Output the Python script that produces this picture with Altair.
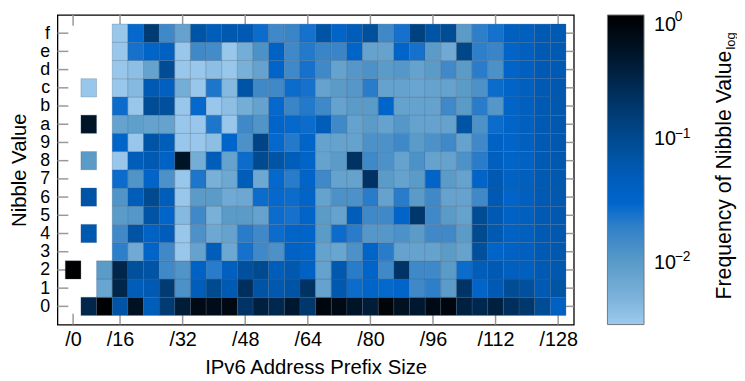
import altair as alt
import pandas as pd

nibble_labels = list("0123456789abcdef")
positions = list(range(1, 33))  # nibble position 1..32
tick_positions = [1, 4, 8, 12, 16, 20, 24, 28, 32]
tick_labels = ["/0", "/16", "/32", "/48", "/64", "/80", "/96", "/112", "/128"]
row_ticks = list(range(16))
legend_values = [1.0, 0.1, 0.01]
legend_exponents = ["0", "\u22121", "\u22122"]

N = None
row_0 = [N, 0.3, 0.95, 0.07, 0.55, 0.048, 0.16, 0.4, 0.7, 0.65, 0.75, 0.2, 0.35, 0.28, 0.45, 0.18, 0.8, 0.7, 0.5, 0.4, 0.85, 0.55, 0.45, 0.7, 0.8, 0.35, 0.28, 0.35, 0.23, 0.18, 0.09, 0.038]
row_1 = [N, N, 0.0075, 0.3, 0.048, 0.055, 0.16, 0.013, 0.048, 0.1, 0.055, 0.23, 0.07, 0.06, 0.07, 0.21, 0.008, 0.06, 0.027, 0.033, 0.029, 0.031, 0.016, 0.02, 0.01, 0.2, 0.033, 0.055, 0.09, 0.08, 0.055, 0.07]
row_2 = [1.0, N, 0.01, 0.3, 0.08, 0.07, 0.016, 0.012, 0.036, 0.021, 0.042, 0.08, 0.1, 0.048, 0.06, 0.036, 0.008, 0.06, 0.021, 0.033, 0.016, 0.2, 0.016, 0.016, 0.01, 0.027, 0.048, 0.055, 0.042, 0.042, 0.055, 0.06]
row_3 = [N, N, N, 0.02, 0.0065, 0.033, 0.016, 0.0034, 0.008, 0.048, 0.007, 0.025, 0.016, 0.013, 0.036, 0.033, 0.008, 0.0075, 0.013, 0.033, 0.021, 0.008, 0.008, 0.008, 0.01, 0.008, 0.08, 0.033, 0.036, 0.042, 0.055, 0.06]
row_4 = [N, 0.06, N, 0.016, 0.07, 0.036, 0.048, 0.0034, 0.013, 0.007, 0.008, 0.021, 0.016, 0.027, 0.033, 0.033, 0.01, 0.027, 0.021, 0.011, 0.011, 0.013, 0.01, 0.016, 0.016, 0.01, 0.1, 0.055, 0.036, 0.042, 0.055, 0.06]
row_5 = [N, N, N, 0.01, 0.011, 0.07, 0.033, 0.0045, 0.016, 0.0055, 0.01, 0.01, 0.008, 0.027, 0.025, 0.033, 0.01, 0.008, 0.048, 0.016, 0.016, 0.033, 0.18, 0.016, 0.01, 0.008, 0.09, 0.055, 0.036, 0.042, 0.055, 0.06]
row_6 = [N, 0.07, N, 0.012, 0.048, 0.1, 0.048, 0.0034, 0.01, 0.01, 0.0065, 0.007, 0.027, 0.029, 0.027, 0.033, 0.008, 0.013, 0.013, 0.021, 0.008, 0.021, 0.01, 0.016, 0.008, 0.008, 0.016, 0.055, 0.033, 0.042, 0.055, 0.06]
row_7 = [N, N, N, 0.027, 0.012, 0.033, 0.013, 0.0034, 0.023, 0.0055, 0.007, 0.048, 0.007, 0.029, 0.021, 0.033, 0.016, 0.008, 0.008, 0.21, 0.01, 0.008, 0.01, 0.033, 0.01, 0.008, 0.033, 0.055, 0.036, 0.042, 0.055, 0.06]
row_8 = [N, 0.01, N, 0.0034, 0.048, 0.055, 0.036, 0.5, 0.006, 0.048, 0.008, 0.027, 0.1, 0.07, 0.048, 0.033, 0.008, 0.01, 0.21, 0.016, 0.013, 0.008, 0.013, 0.008, 0.008, 0.013, 0.021, 0.042, 0.033, 0.036, 0.055, 0.06]
row_9 = [N, N, N, 0.033, 0.0034, 0.07, 0.048, 0.0034, 0.0034, 0.004, 0.031, 0.013, 0.12, 0.029, 0.022, 0.033, 0.008, 0.008, 0.008, 0.013, 0.013, 0.016, 0.01, 0.013, 0.016, 0.008, 0.016, 0.036, 0.033, 0.042, 0.055, 0.06]
row_a = [N, 0.5, N, 0.008, 0.009, 0.008, 0.008, 0.0034, 0.0034, 0.023, 0.0034, 0.016, 0.012, 0.033, 0.029, 0.027, 0.048, 0.016, 0.008, 0.01, 0.008, 0.011, 0.008, 0.008, 0.008, 0.07, 0.013, 0.027, 0.033, 0.042, 0.055, 0.06]
row_b = [N, N, N, 0.027, 0.0034, 0.09, 0.08, 0.0034, 0.029, 0.0034, 0.004, 0.006, 0.008, 0.029, 0.018, 0.022, 0.016, 0.008, 0.01, 0.01, 0.031, 0.008, 0.008, 0.008, 0.016, 0.01, 0.021, 0.011, 0.033, 0.042, 0.055, 0.06]
row_c = [N, 0.0034, N, 0.0034, 0.0045, 0.055, 0.042, 0.006, 0.0034, 0.023, 0.0045, 0.07, 0.016, 0.016, 0.027, 0.025, 0.008, 0.01, 0.011, 0.021, 0.008, 0.008, 0.0075, 0.008, 0.008, 0.01, 0.013, 0.027, 0.033, 0.042, 0.055, 0.06]
row_d = [N, N, N, 0.0034, 0.004, 0.008, 0.09, 0.0034, 0.0034, 0.004, 0.0034, 0.0055, 0.008, 0.033, 0.016, 0.025, 0.016, 0.008, 0.011, 0.013, 0.01, 0.011, 0.008, 0.01, 0.016, 0.01, 0.021, 0.013, 0.033, 0.042, 0.055, 0.055]
row_e = [N, N, N, 0.0034, 0.025, 0.033, 0.039, 0.0034, 0.016, 0.015, 0.0034, 0.006, 0.013, 0.036, 0.016, 0.022, 0.018, 0.018, 0.033, 0.008, 0.008, 0.033, 0.025, 0.01, 0.0065, 0.11, 0.02, 0.018, 0.033, 0.042, 0.055, 0.055]
row_f = [N, N, N, 0.0034, 0.029, 0.16, 0.016, 0.008, 0.07, 0.048, 0.06, 0.055, 0.027, 0.016, 0.018, 0.025, 0.07, 0.033, 0.048, 0.08, 0.016, 0.025, 0.13, 0.07, 0.09, 0.01, 0.02, 0.025, 0.042, 0.042, 0.055, 0.055]

rows = [row_0, row_1, row_2, row_3, row_4, row_5, row_6, row_7,
        row_8, row_9, row_a, row_b, row_c, row_d, row_e, row_f]

records = []
for r, vals in enumerate(rows):
    for k, v in zip(positions, vals):
        if v is not None:
            records.append({"pos": k, "nibble": r, "freq": v})
df = pd.DataFrame(records)

color_domain = [0.00316, 0.0055, 0.01, 0.018, 0.03, 0.055, 0.1, 0.2, 0.5, 1.0]
color_range = ["#9dcaee", "#78b0d8", "#5a9bc8", "#3a85c8", "#0066cc",
               "#005ab4", "#004a90", "#003466", "#001428", "#000000"]

FONT = "Liberation Sans"
W, H = 522, 313
TICK = 11
xscale = alt.Scale(domain=[0, 33], nice=False, zero=False)
yscale = alt.Scale(domain=[-1, 16], nice=False, zero=False)

x_label_expr = "datum.value == 1 ? '/0' : '/' + (datum.value * 4)"
y_label_expr = "substring('0123456789abcdef', datum.value, datum.value + 1)"

common_axis = dict(domain=False, grid=False, ticks=False, labelFont=FONT,
                   labelColor="black", titleFont=FONT, titleFontSize=20.5,
                   titleFontWeight="normal", titleColor="black", labelOverlap=False,
                   labelFlush=False)
x_axis = alt.Axis(orient="bottom", values=tick_positions, labelExpr=x_label_expr,
                  title="IPv6 Address Prefix Size", labelPadding=5,
                  labelFontSize=20, titlePadding=8, **common_axis)
y_axis = alt.Axis(orient="left", values=row_ticks, labelExpr=y_label_expr,
                  title="Nibble Value", labelPadding=8, labelFontSize=18,
                  titlePadding=10, **common_axis)

# inward tick marks on all four sides (drawn first, so the cells cover them)
xt = pd.DataFrame({"p": tick_positions})
yt = pd.DataFrame({"r": row_ticks})
tick_style = dict(color="#999999", strokeWidth=1.5)
x_ticks_bottom = alt.Chart(xt).mark_rule(**tick_style).encode(
    x=alt.X("p:Q", scale=xscale, axis=x_axis), y=alt.value(H - TICK), y2=alt.value(H))
x_ticks_top = alt.Chart(xt).mark_rule(**tick_style).encode(
    x=alt.X("p:Q", scale=xscale, axis=x_axis), y=alt.value(0), y2=alt.value(TICK))
y_ticks_left = alt.Chart(yt).mark_rule(**tick_style).encode(
    y=alt.Y("r:Q", scale=yscale, axis=y_axis), x=alt.value(0), x2=alt.value(TICK))
y_ticks_right = alt.Chart(yt).mark_rule(**tick_style).encode(
    y=alt.Y("r:Q", scale=yscale, axis=y_axis), x=alt.value(W - TICK), x2=alt.value(W))

base = alt.Chart(df).transform_calculate(
    x0="datum.pos - 0.5", x1="datum.pos + 0.5",
    y0="datum.nibble - 0.5", y1="datum.nibble + 0.5",
)

cells = base.mark_rect(stroke="#3d5d7a", strokeWidth=0.6, strokeOpacity=0.45).encode(
    x=alt.X("x0:Q", scale=xscale, axis=x_axis),
    x2="x1:Q",
    y=alt.Y("y0:Q", scale=yscale, axis=y_axis),
    y2="y1:Q",
    color=alt.Color("freq:Q",
                    scale=alt.Scale(type="log", domain=color_domain, range=color_range,
                                    interpolate="rgb", clamp=True),
                    legend=alt.Legend(orient="none", legendX=556, legendY=0,
                                      direction="vertical", gradientLength=H,
                                      gradientThickness=37, values=legend_values,
                                      labelExpr="'10'",
                                      labelFont=FONT, labelFontSize=20, labelColor="black",
                                      labelOffset=10, labelOverlap=False, title=None,
                                      gradientStrokeColor="#777777", gradientStrokeWidth=1,
                                      padding=0)),
)

# exponents of the colour-bar labels (10^0, 10^-1, 10^-2)
exp_layers = []
for exp_text, ypix in zip(legend_exponents, [2, 120, 245]):
    exp_layers.append(
        alt.Chart(pd.DataFrame({"t": [exp_text]})).mark_text(
            align="left", baseline="middle", font=FONT, fontSize=14, color="black"
        ).encode(x=alt.value(624), y=alt.value(ypix), text="t:N")
    )

title_df = pd.DataFrame({"t": ["Frequency of Nibble Value"]})
title_main = alt.Chart(title_df).mark_text(
    angle=270, align="right", baseline="middle", font=FONT, fontSize=21.5, color="black"
).encode(x=alt.value(675), y=alt.value(36), text="t:N")

sub_df = pd.DataFrame({"t": ["log"]})
title_sub = alt.Chart(sub_df).mark_text(
    angle=270, align="left", baseline="middle", font=FONT, fontSize=13, color="black"
).encode(x=alt.value(681), y=alt.value(35), text="t:N")

chart = alt.layer(x_ticks_bottom, x_ticks_top, y_ticks_left, y_ticks_right,
                  cells, *exp_layers, title_main, title_sub).properties(
    width=W, height=H,
    autosize=alt.AutoSizeParams(type="none"),
    padding={"left": 50, "top": 5, "right": 165, "bottom": 55},
).configure_view(stroke="black", strokeWidth=1.3)

chart.save("out.html", embed_options={"renderer": "svg", "actions": False})
